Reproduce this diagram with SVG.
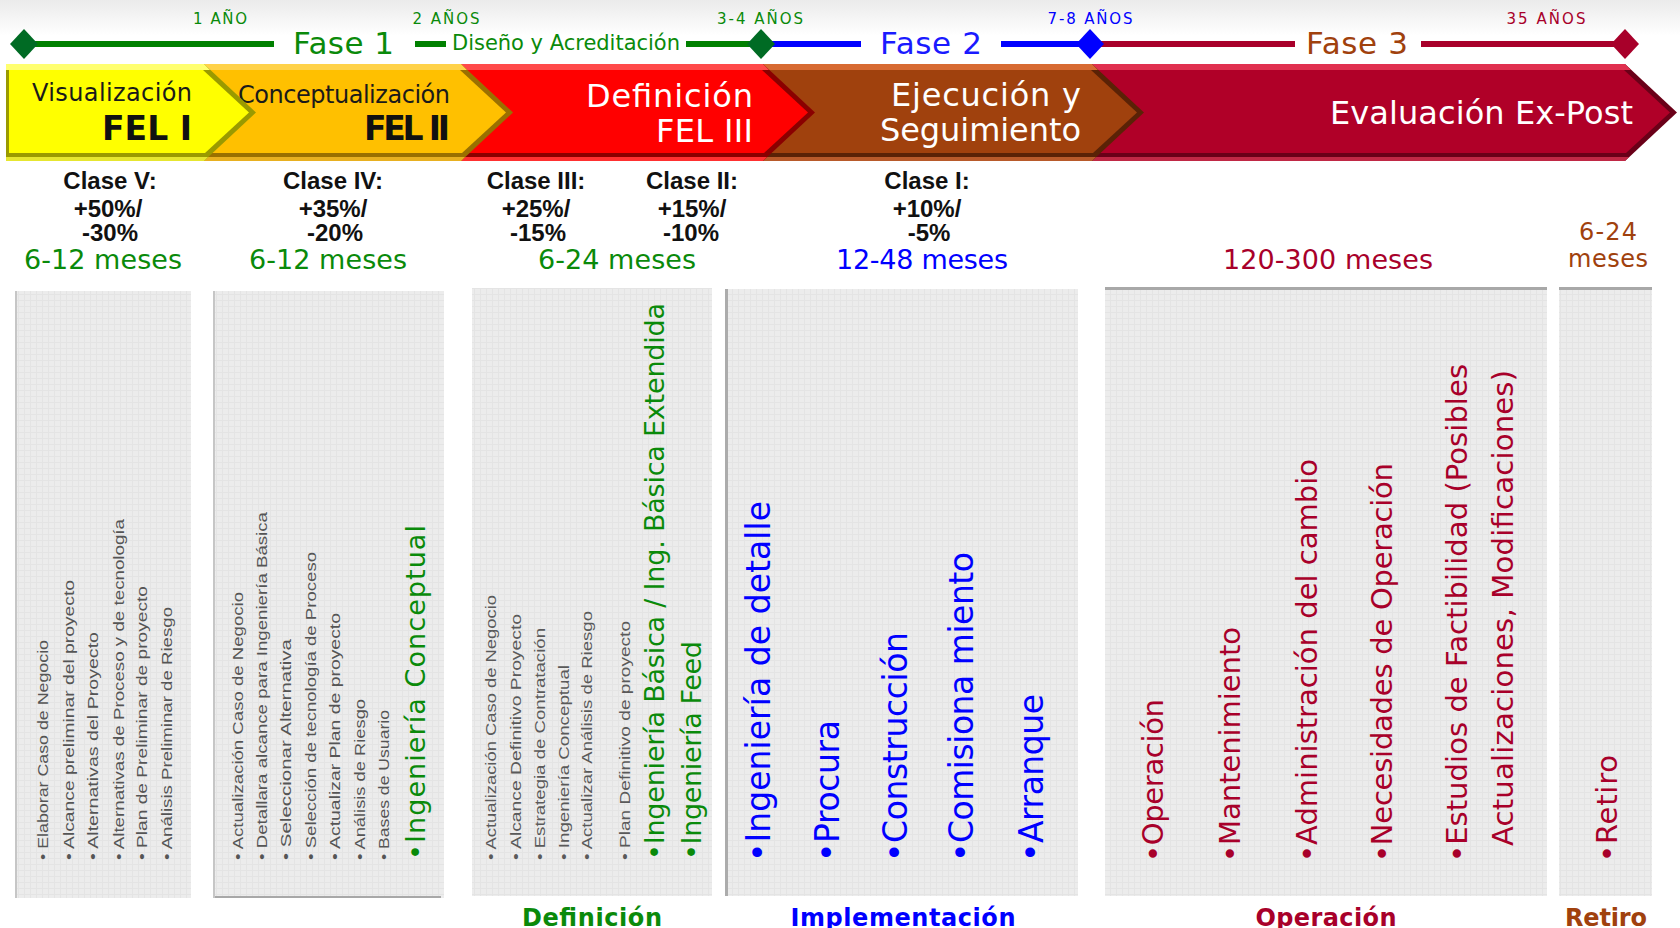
<svg xmlns="http://www.w3.org/2000/svg" width="1680" height="928" viewBox="0 0 1680 928">
<defs>
<linearGradient id="topbg" x1="0" y1="0" x2="0" y2="1"><stop offset="0" stop-color="#ebebeb"/><stop offset="1" stop-color="#ffffff"/></linearGradient>
<pattern id="grid" width="6" height="6" patternUnits="userSpaceOnUse"><rect width="6" height="6" fill="#ececec"/><path d="M0 0.5H6M0.5 0V6" stroke="#e4e4e4" stroke-width="1"/></pattern>
</defs>
<style>
text{font-family:"DejaVu Sans","Liberation Sans",sans-serif}
.sm{font-family:"Liberation Sans",Arial,sans-serif;font-size:15px;fill:#555555}
.sm3{font-family:"Liberation Sans",Arial,sans-serif;font-size:14px;fill:#5a5a5a}
.gr{fill:#0a8a0a}
.bl{fill:#0000ff}
.cr{fill:#a8002a}
.br{fill:#a0410d}
.yr{font-size:15px;text-anchor:middle}
.fase{font-size:31px;text-anchor:middle}
.cls{font-family:"Liberation Sans",Arial,sans-serif;font-weight:bold;font-size:24px;fill:#111;text-anchor:middle}
.mes{font-size:27px;text-anchor:middle}
.mes2{font-size:24px;text-anchor:middle}
.lbl{font-weight:bold;font-size:24px;text-anchor:middle}
.ch1{font-size:24px;fill:#1a1a1a}
.chb{font-weight:bold;font-size:33px;fill:#111;text-anchor:end}
.chw{font-size:32px;fill:#ffffff;text-anchor:end}
.panel{fill:url(#grid)}
.tl{stroke-width:6;fill:none}
</style>
<rect x="0" y="0" width="1680" height="36" fill="url(#topbg)"/>

<g id="timeline">
<g stroke="#008000" class="tl"><line x1="24" y1="44" x2="274" y2="44"/><line x1="415" y1="44" x2="446" y2="44"/><line x1="686" y1="44" x2="761" y2="44"/></g>
<g stroke="#0000ff" class="tl"><line x1="761" y1="44" x2="861" y2="44"/><line x1="1001" y1="44" x2="1090" y2="44"/></g>
<g stroke="#a8002a" class="tl"><line x1="1090" y1="44" x2="1295" y2="44"/><line x1="1421" y1="44" x2="1625" y2="44"/></g>
<polygon points="24,29 38,44 24,59 10,44" fill="#006b24"/>
<polygon points="761,29 775,44 761,59 747,44" fill="#006b24"/>
<polygon points="1090,29 1104,44 1090,59 1076,44" fill="#0000ff"/>
<polygon points="1625,29 1639,44 1625,59 1611,44" fill="#a8002a"/>
<text class="yr gr" x="220" y="24" textLength="54">1 AÑO</text>
<text class="yr gr" x="446" y="24" textLength="67">2 AÑOS</text>
<text class="yr gr" x="760" y="24" textLength="86">3-4 AÑOS</text>
<text class="yr bl" x="1090" y="24" textLength="85">7-8 AÑOS</text>
<text class="yr cr" x="1546" y="24" textLength="79">35 AÑOS</text>
<text class="fase gr" x="343.5" y="54" textLength="101">Fase 1</text>
<text class="gr" x="566" y="50" font-size="21" text-anchor="middle" textLength="228">Diseño y Acreditación</text>
<text class="fase" fill="#1a1aff" x="931" y="54" textLength="102">Fase 2</text>
<text class="fase br" x="1357" y="54" textLength="102">Fase 3</text>
</g>

<g id="chevrons">
<g id="ch-evaluacion">
<polygon points="1092,64 1625,64 1677,112.5 1625,161 1092,161" fill="#6a0018"/>
<polygon points="1092,64 1625,64 1631,70 1092,70" fill="#e0304f"/>
<polygon points="1092,157 1629,157 1625,161 1092,161" fill="#c02845"/>
<polygon points="1095,70 1624,70 1670,112.5 1626,153 1095,153" fill="#b00028"/>
<text class="chw" x="1633" y="124" textLength="303">Evaluación Ex-Post</text>
</g>
<g id="ch-ejecucion">
<polygon points="763,64 1092,64 1144,112.5 1092,161 763,161" fill="#5a2206"/>
<polygon points="763,64 1092,64 1098,70 763,70" fill="#d76a32"/>
<polygon points="763,157 1096,157 1092,161 763,161" fill="#b85a2a"/>
<polygon points="766,70 1091,70 1137,112.5 1093,153 766,153" fill="#a0410d"/>
<text class="chw" x="1081" y="106" textLength="190">Ejecución y</text>
<text class="chw" x="1081" y="141" textLength="201">Seguimiento</text>
</g>
<g id="ch-definicion">
<polygon points="461,64 763,64 815,112.5 763,161 461,161" fill="#8a0000"/>
<polygon points="461,64 763,64 769,70 461,70" fill="#ff4a4a"/>
<polygon points="461,157 767,157 763,161 461,161" fill="#ff3030"/>
<polygon points="464,70 762,70 808,112.5 764,153 464,153" fill="#ff0000"/>
<text class="chw" x="753" y="107" textLength="167">Definición</text>
<text class="chw" x="753" y="142" textLength="97">FEL III</text>
</g>
<g id="ch-conceptualizacion">
<polygon points="204,64 461,64 513,112.5 461,161 204,161" fill="#9a7000"/>
<polygon points="204,64 461,64 467,70 204,70" fill="#ffd24a"/>
<polygon points="204,157 465,157 461,161 204,161" fill="#e8b020"/>
<polygon points="207,70 460,70 506,112.5 462,153 207,153" fill="#ffc000"/>
<text class="ch1" x="238" y="103" textLength="212">Conceptualización</text>
<text class="chb" x="450" y="140" textLength="86">FEL II</text>
</g>
<g id="ch-visualizacion">
<polygon points="6,64 204,64 256,112.5 204,161 6,161" fill="#9a9a00"/>
<polygon points="6,64 204,64 210,70 6,70" fill="#ffff70"/>
<polygon points="6,157 208,157 204,161 6,161" fill="#e6e630"/>
<polygon points="9,70 203,70 249,112.5 205,153 9,153" fill="#ffff00"/>
<text class="ch1" x="32" y="101" textLength="160">Visualización</text>
<text class="chb" x="192" y="140" textLength="90">FEL I</text>
</g>
</g>

<g id="clases">
<text class="cls" x="110" y="189">Clase V:</text>
<text class="cls" x="108" y="217">+50%/</text>
<text class="cls" x="110" y="241">-30%</text>
<text class="mes gr" x="103" y="269" textLength="158">6-12 meses</text>
<text class="cls" x="333" y="189">Clase IV:</text>
<text class="cls" x="333" y="217">+35%/</text>
<text class="cls" x="335" y="241">-20%</text>
<text class="mes gr" x="328" y="269" textLength="158">6-12 meses</text>
<text class="cls" x="536" y="189">Clase III:</text>
<text class="cls" x="536" y="217">+25%/</text>
<text class="cls" x="538" y="241">-15%</text>
<text class="cls" x="692" y="189">Clase II:</text>
<text class="cls" x="692" y="217">+15%/</text>
<text class="cls" x="691" y="241">-10%</text>
<text class="mes gr" x="617" y="269" textLength="158">6-24 meses</text>
<text class="cls" x="927" y="189">Clase I:</text>
<text class="cls" x="927" y="217">+10%/</text>
<text class="cls" x="929" y="241">-5%</text>
<text class="mes bl" x="922" y="269" textLength="172">12-48 meses</text>
<text class="mes cr" x="1328" y="269" textLength="210">120-300 meses</text>
<text class="mes2 br" x="1608" y="240" textLength="58">6-24</text>
<text class="mes2 br" x="1608" y="267" textLength="80">meses</text>
</g>

<g id="panel-visualizacion">
<rect class="panel" x="15" y="291" width="176" height="607"/>
<line x1="16" y1="291" x2="16" y2="898" stroke="#c6c6c6" stroke-width="2"/>
<g lengthAdjust="spacingAndGlyphs">
<text class="sm" lengthAdjust="spacingAndGlyphs" transform="translate(48,860) rotate(-90)" textLength="220">•  Elaborar Caso de Negocio</text>
<text class="sm" lengthAdjust="spacingAndGlyphs" transform="translate(74,860) rotate(-90)" textLength="280">•  Alcance preliminar del proyecto</text>
<text class="sm" lengthAdjust="spacingAndGlyphs" transform="translate(98,860) rotate(-90)" textLength="228">•  Alternativas del Proyecto</text>
<text class="sm" lengthAdjust="spacingAndGlyphs" transform="translate(124,860) rotate(-90)" textLength="341">•  Alternativas de Proceso y de tecnología</text>
<text class="sm" lengthAdjust="spacingAndGlyphs" transform="translate(147,860) rotate(-90)" textLength="274">•  Plan de Preliminar de proyecto</text>
<text class="sm" lengthAdjust="spacingAndGlyphs" transform="translate(172,860) rotate(-90)" textLength="253">•  Análisis Preliminar de Riesgo</text>
</g>
</g>

<g id="panel-conceptualizacion">
<rect class="panel" x="213" y="291" width="231" height="607"/>
<line x1="214" y1="291" x2="214" y2="898" stroke="#c6c6c6" stroke-width="2"/>
<line x1="215" y1="897" x2="441" y2="897" stroke="#a8a8a8" stroke-width="2"/>
<text class="sm" lengthAdjust="spacingAndGlyphs" transform="translate(243,860) rotate(-90)" textLength="268">•  Actualización Caso de Negocio</text>
<text class="sm" lengthAdjust="spacingAndGlyphs" transform="translate(267,860) rotate(-90)" textLength="348">•  Detallara alcance para Ingeniería Básica</text>
<text class="sm" lengthAdjust="spacingAndGlyphs" transform="translate(291,860) rotate(-90)" textLength="221">•  Seleccionar Alternativa</text>
<text class="sm" lengthAdjust="spacingAndGlyphs" transform="translate(316,860) rotate(-90)" textLength="308">•  Selección de tecnología de Proceso</text>
<text class="sm" lengthAdjust="spacingAndGlyphs" transform="translate(340,860) rotate(-90)" textLength="247">•  Actualizar Plan de proyecto</text>
<text class="sm" lengthAdjust="spacingAndGlyphs" transform="translate(365,860) rotate(-90)" textLength="161">•  Análisis de Riesgo</text>
<text class="sm" lengthAdjust="spacingAndGlyphs" transform="translate(389,860) rotate(-90)" textLength="150">•  Bases de Usuario</text>
<text class="gr" font-size="27" transform="translate(425,860) rotate(-90)" textLength="335">•Ingeniería Conceptual</text>
</g>

<g id="panel-definicion">
<rect class="panel" x="472" y="288" width="240" height="608"/>
<text class="sm3" lengthAdjust="spacingAndGlyphs" transform="translate(496,860) rotate(-90)" textLength="265">•  Actualización Caso de Negocio</text>
<text class="sm3" lengthAdjust="spacingAndGlyphs" transform="translate(521,860) rotate(-90)" textLength="246">•  Alcance Definitivo Proyecto</text>
<text class="sm3" lengthAdjust="spacingAndGlyphs" transform="translate(545,860) rotate(-90)" textLength="232">•  Estrategia de Contratación</text>
<text class="sm3" lengthAdjust="spacingAndGlyphs" transform="translate(569,860) rotate(-90)" textLength="195">•  Ingeniería Conceptual</text>
<text class="sm3" lengthAdjust="spacingAndGlyphs" transform="translate(592,860) rotate(-90)" textLength="249">•  Actualizar Análisis de Riesgo</text>
<text class="sm3" lengthAdjust="spacingAndGlyphs" transform="translate(630,860) rotate(-90)" textLength="239">•  Plan Definitivo de proyecto</text>
<text class="gr" font-size="27" transform="translate(664,860) rotate(-90)" textLength="557">•Ingeniería Básica / Ing. Básica Extendida</text>
<text class="gr" font-size="27" transform="translate(701,860) rotate(-90)" textLength="219">•Ingeniería Feed</text>
<text class="lbl gr" x="592" y="926" textLength="140">Definición</text>
</g>

<g id="panel-implementacion">
<rect class="panel" x="725" y="289" width="353" height="607"/>
<line x1="726.5" y1="289" x2="726.5" y2="896" stroke="#acacac" stroke-width="3"/>
<text class="bl" font-size="33" transform="translate(770,862) rotate(-90)" textLength="361">•Ingeniería de detalle</text>
<text class="bl" font-size="33" transform="translate(839,862) rotate(-90)" textLength="142">•Procura</text>
<text class="bl" font-size="33" transform="translate(907,862) rotate(-90)" textLength="230">•Construcción</text>
<text class="bl" font-size="33" transform="translate(973,862) rotate(-90)" textLength="310">•Comisiona miento</text>
<text class="bl" font-size="33" transform="translate(1043,862) rotate(-90)" textLength="168">•Arranque</text>
<text class="lbl bl" x="903" y="926" textLength="225">Implementación</text>
</g>

<g id="panel-operacion">
<rect class="panel" x="1105" y="287" width="442" height="609"/>
<line x1="1105" y1="288.5" x2="1547" y2="288.5" stroke="#a8a8a8" stroke-width="3"/>
<text class="cr" font-size="29" transform="translate(1163,862) rotate(-90)" textLength="163">•Operación</text>
<text class="cr" font-size="29" transform="translate(1240,862) rotate(-90)" textLength="235">•Mantenimiento</text>
<text class="cr" font-size="29" transform="translate(1317,862) rotate(-90)" textLength="403">•Administración del cambio</text>
<text class="cr" font-size="29" transform="translate(1392,862) rotate(-90)" textLength="399">•Necesidades de Operación</text>
<text class="cr" font-size="29" transform="translate(1467,862) rotate(-90)" textLength="498">•Estudios de Factibilidad (Posibles</text>
<text class="cr" font-size="29" transform="translate(1513,846) rotate(-90)" textLength="476">Actualizaciones, Modificaciones)</text>
<text class="lbl cr" x="1326" y="926" textLength="141">Operación</text>
</g>

<g id="panel-retiro">
<rect class="panel" x="1559" y="287" width="93" height="609"/>
<line x1="1559" y1="288.5" x2="1652" y2="288.5" stroke="#a8a8a8" stroke-width="3"/>
<text class="cr" font-size="29" transform="translate(1617,862) rotate(-90)" textLength="107">•Retiro</text>
<text class="lbl br" x="1606" y="926" textLength="82">Retiro</text>
</g>
</svg>
